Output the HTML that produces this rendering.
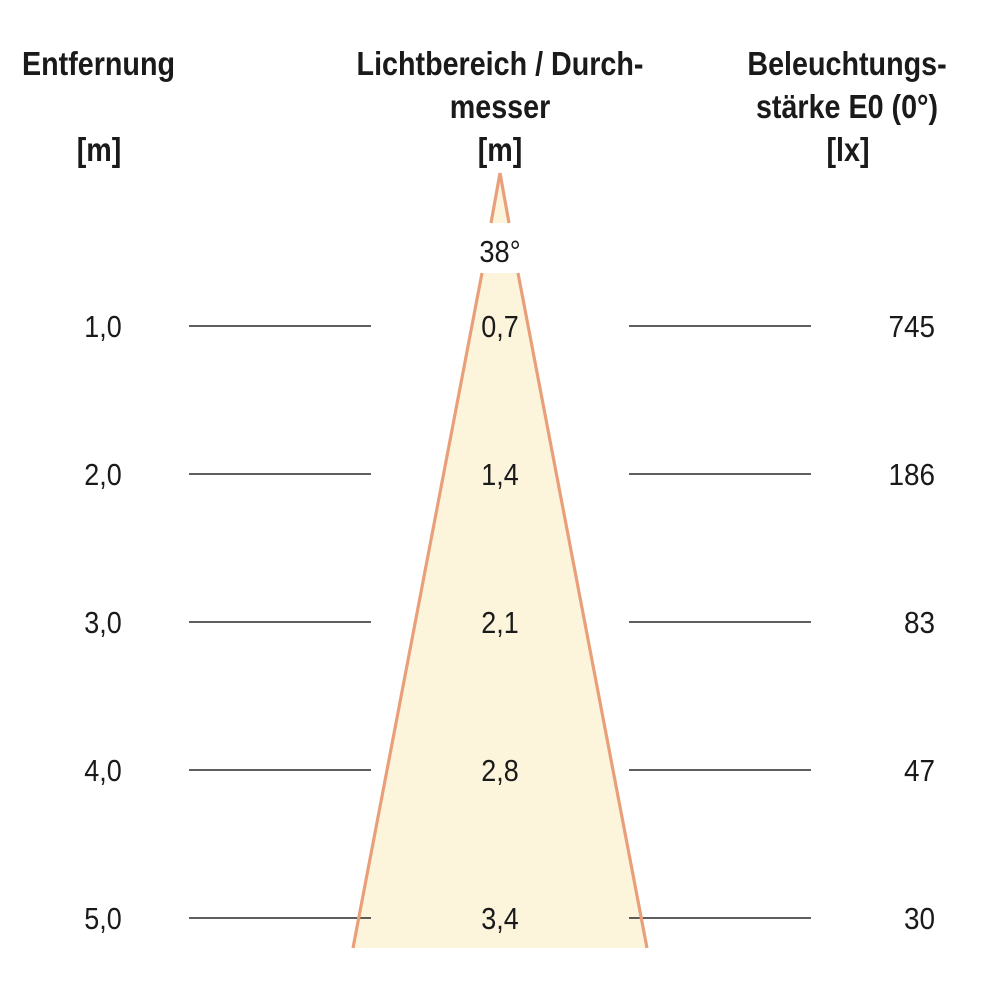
<!DOCTYPE html>
<html>
<head>
<meta charset="utf-8">
<style>
  html,body{margin:0;padding:0;background:#fff;}
  svg{display:block;}
  text{font-family:"Liberation Sans", Arial, sans-serif;fill:#1a1a1a;}
  .h{font-weight:bold;font-size:33px;}
  .v{font-size:31px;}
</style>
</head>
<body>
<svg width="1000" height="1000" viewBox="0 0 1000 1000" xmlns="http://www.w3.org/2000/svg">
  <rect width="1000" height="1000" fill="#fff"/>

  <!-- cone fill -->
  <polygon points="500,173 509,223 491,223" fill="#fcf5dc"/>
  <polygon points="482,273 518,273 647,948 353,948" fill="#fcf5dc"/>

  <!-- horizontal lines -->
  <g stroke="#2a2a2a" stroke-width="1.6">
    <line x1="189" y1="326" x2="371" y2="326"/>
    <line x1="629" y1="326" x2="811" y2="326"/>
    <line x1="189" y1="474" x2="371" y2="474"/>
    <line x1="629" y1="474" x2="811" y2="474"/>
    <line x1="189" y1="622" x2="371" y2="622"/>
    <line x1="629" y1="622" x2="811" y2="622"/>
    <line x1="189" y1="770" x2="371" y2="770"/>
    <line x1="629" y1="770" x2="811" y2="770"/>
    <line x1="189" y1="918" x2="371" y2="918"/>
    <line x1="629" y1="918" x2="811" y2="918"/>
  </g>

  <!-- cone edges -->
  <g stroke="#e9a07a" stroke-width="3.2" fill="none" stroke-linecap="butt">
    <line x1="500" y1="173" x2="491" y2="223"/>
    <line x1="500" y1="173" x2="509" y2="223"/>
    <line x1="482" y1="273" x2="353" y2="948"/>
    <line x1="518" y1="273" x2="647" y2="948"/>
  </g>

  <!-- headers -->
  <g class="h">
    <text class="h" text-anchor="middle" transform="translate(98.5,75) scale(0.87,1)">Entfernung</text>
    <text class="h" text-anchor="middle" transform="translate(99,161) scale(0.87,1)">[m]</text>

    <text class="h" text-anchor="middle" transform="translate(500,75) scale(0.87,1)">Lichtbereich / Durch-</text>
    <text class="h" text-anchor="middle" transform="translate(500,118) scale(0.87,1)">messer</text>
    <text class="h" text-anchor="middle" transform="translate(500,161) scale(0.87,1)">[m]</text>

    <text class="h" text-anchor="middle" transform="translate(847,75) scale(0.87,1)">Beleuchtungs-</text>
    <text class="h" text-anchor="middle" transform="translate(847,118) scale(0.87,1)">stärke E0 (0°)</text>
    <text class="h" text-anchor="middle" transform="translate(848,161) scale(0.87,1)">[lx]</text>
  </g>

  <!-- angle -->
  <text class="v" text-anchor="middle" transform="translate(500,262) scale(0.88,1)">38°</text>

  <!-- left values -->
  <text class="v" text-anchor="middle" transform="translate(103,337) scale(0.87,1)">1,0</text>
  <text class="v" text-anchor="middle" transform="translate(103,485) scale(0.87,1)">2,0</text>
  <text class="v" text-anchor="middle" transform="translate(103,633) scale(0.87,1)">3,0</text>
  <text class="v" text-anchor="middle" transform="translate(103,781) scale(0.87,1)">4,0</text>
  <text class="v" text-anchor="middle" transform="translate(103,929) scale(0.87,1)">5,0</text>

  <!-- middle values -->
  <text class="v" text-anchor="middle" transform="translate(500,337) scale(0.87,1)">0,7</text>
  <text class="v" text-anchor="middle" transform="translate(500,485) scale(0.87,1)">1,4</text>
  <text class="v" text-anchor="middle" transform="translate(500,633) scale(0.87,1)">2,1</text>
  <text class="v" text-anchor="middle" transform="translate(500,781) scale(0.87,1)">2,8</text>
  <text class="v" text-anchor="middle" transform="translate(500,929) scale(0.87,1)">3,4</text>

  <!-- right values -->
  <text class="v" text-anchor="end" transform="translate(935,337) scale(0.9,1)">745</text>
  <text class="v" text-anchor="end" transform="translate(935,485) scale(0.9,1)">186</text>
  <text class="v" text-anchor="end" transform="translate(935,633) scale(0.9,1)">83</text>
  <text class="v" text-anchor="end" transform="translate(935,781) scale(0.9,1)">47</text>
  <text class="v" text-anchor="end" transform="translate(935,929) scale(0.9,1)">30</text>
</svg>
</body>
</html>
